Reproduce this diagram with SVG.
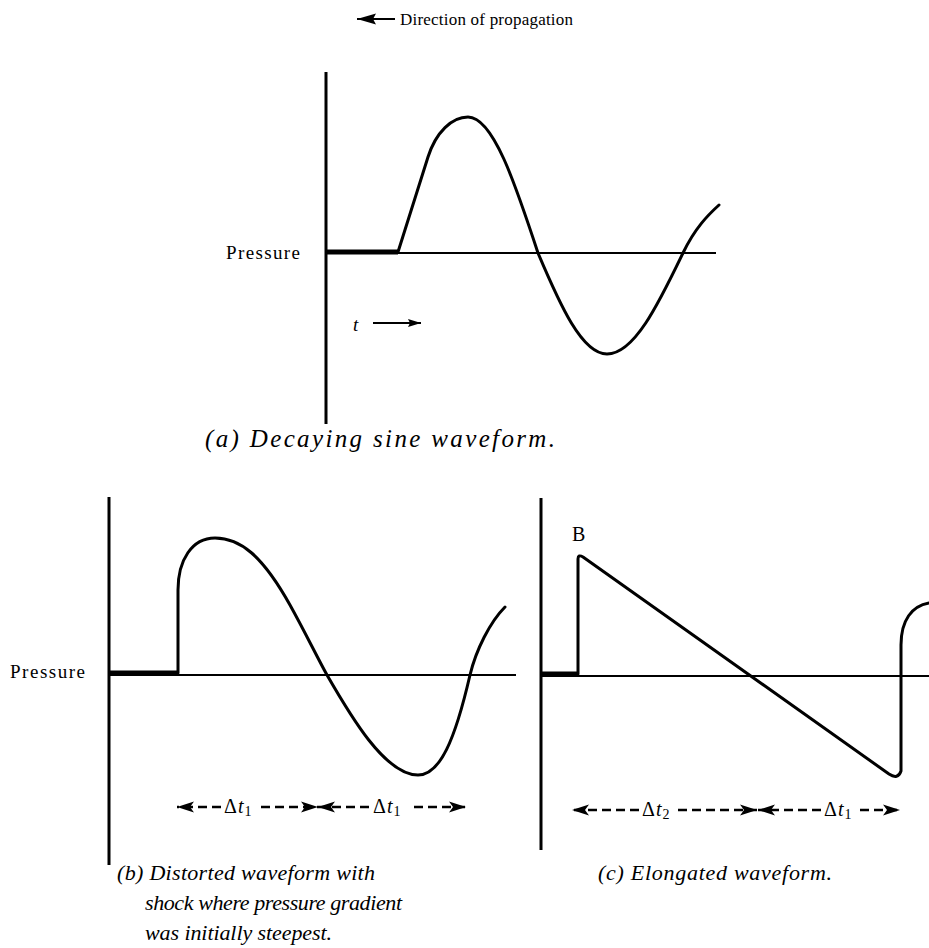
<svg xmlns="http://www.w3.org/2000/svg" width="929" height="948" viewBox="0 0 929 948">
<style>
.ax{stroke:#000;stroke-width:3;fill:none}
.bl{stroke:#000;stroke-width:2;fill:none}
.thick{stroke:#000;stroke-width:5;fill:none}
.wave{stroke:#000;stroke-width:3;fill:none;stroke-linejoin:round;stroke-linecap:round}
.dash{stroke:#000;stroke-width:2.5;stroke-dasharray:9 5;fill:none}
.solid{stroke:#000;stroke-width:2;fill:none}
.lab{font-family:"Liberation Serif","Times New Roman",serif;fill:#000}
.cap{font-family:"Liberation Serif","Times New Roman",serif;font-style:italic;font-size:22px;fill:#000}
.capa{font-size:25px}
.dt{font-family:"Liberation Serif","Times New Roman",serif;font-size:20px;fill:#000;letter-spacing:1px}
.it{font-style:italic}
</style>
<defs>
<marker id="ah" markerWidth="18" markerHeight="12" refX="17" refY="6" orient="auto" markerUnits="userSpaceOnUse">
<path d="M0,0.5 L17,6 L0,11.5 L4,6 Z" fill="#000"/>
</marker>
<marker id="aht" markerWidth="20" markerHeight="12" refX="19" refY="6" orient="auto" markerUnits="userSpaceOnUse">
<path d="M0,0.5 L19,6 L0,11.5 L3,6 Z" fill="#000"/>
</marker>
<marker id="ahs" markerWidth="14" markerHeight="9" refX="13" refY="4.5" orient="auto" markerUnits="userSpaceOnUse">
<path d="M0,0.5 L13,4.5 L0,8.5 L2,4.5 Z" fill="#000"/>
</marker>
</defs>

<g id="title">
<line class="solid" x1="395" y1="19" x2="357" y2="19" stroke-width="2.5" marker-end="url(#aht)"/>
<text class="lab" x="400" y="25" font-size="17" textLength="173" lengthAdjust="spacing">Direction of propagation</text>
</g>

<g id="panel-a">
<line class="ax" x1="326" y1="72" x2="326" y2="424"/>
<line class="bl" x1="326" y1="253" x2="716" y2="253"/>
<line class="thick" x1="326" y1="252" x2="398" y2="252"/>
<path class="wave" d="M398,252 L428,157 C436,132 452,117 468,117 C493,117 515,183 538,253 C560,305 582,354 607,354 C634,354 658,305 683,253 C695,228 708,215 719,205"/>
<text class="lab" x="226" y="259" font-size="19" textLength="74" lengthAdjust="spacing">Pressure</text>
<text class="lab it" x="353" y="331" font-size="19">t</text>
<line class="solid" x1="373" y1="323" x2="421" y2="323" marker-end="url(#ahs)"/>
<text class="cap capa" x="205" y="447" textLength="350" lengthAdjust="spacing">(a)  Decaying  sine  waveform.</text>
</g>

<g id="panel-b">
<line class="ax" x1="109" y1="497" x2="109" y2="865"/>
<line class="bl" x1="109" y1="675" x2="516" y2="675"/>
<line class="thick" x1="109" y1="673" x2="178" y2="673"/>
<path class="wave" d="M178,673 L178,590 C178,560 192,538 215,538 C240,538 262,555 290,605 C305,632 316,655 327,675 C350,715 385,775 418,775 C440,775 455,740 470,675 C476,650 490,622 505,607"/>
<text class="lab" x="10" y="678" font-size="19" textLength="75" lengthAdjust="spacing">Pressure</text>
<text class="cap" x="117" y="880" textLength="258" lengthAdjust="spacing">(b) Distorted waveform with</text>
<text class="cap" x="145" y="910" textLength="257" lengthAdjust="spacing">shock where pressure gradient</text>
<text class="cap" x="145" y="940" textLength="187" lengthAdjust="spacing">was initially steepest.</text>
</g>

<g id="panel-c">
<line class="ax" x1="541" y1="498" x2="541" y2="850"/>
<line class="bl" x1="541" y1="676" x2="929" y2="676"/>
<line class="thick" x1="541" y1="674" x2="578" y2="674"/>
<path class="wave" d="M578,674 L578,559 Q578,554 583,557 L889,774 Q898,780 901,771 L901,645 C901,620 912,606 929,603"/>
<text class="lab" x="572" y="541" font-size="20">B</text>
<text class="cap" x="598" y="880" textLength="234" lengthAdjust="spacing">(c) Elongated waveform.</text>
</g>

<g id="connectors">
<line class="dash" x1="221" y1="807" x2="177" y2="807" marker-end="url(#ah)"/>
<line class="dash" x1="261" y1="807" x2="318" y2="807" marker-end="url(#ah)"/>
<line class="dash" x1="369" y1="807" x2="318" y2="807" marker-end="url(#ah)"/>
<line class="dash" x1="414" y1="807" x2="466" y2="807" marker-end="url(#ah)"/>
<line class="dash" x1="639" y1="810" x2="572" y2="810" marker-end="url(#ah)"/>
<line class="dash" x1="678" y1="810" x2="757" y2="810" marker-end="url(#ah)"/>
<line class="dash" x1="821" y1="810" x2="758" y2="810" marker-end="url(#ah)"/>
<line class="dash" x1="860" y1="810" x2="900" y2="810" marker-end="url(#ah)"/>
</g>

<g id="labels">
<text class="dt" x="224" y="813">Δ<tspan class="it">t</tspan><tspan font-size="14" dy="3">1</tspan></text>
<text class="dt" x="373" y="813">Δ<tspan class="it">t</tspan><tspan font-size="14" dy="3">1</tspan></text>
<text class="dt" x="642" y="816">Δ<tspan class="it">t</tspan><tspan font-size="14" dy="3">2</tspan></text>
<text class="dt" x="824" y="816">Δ<tspan class="it">t</tspan><tspan font-size="14" dy="3">1</tspan></text>
</g>
</svg>
